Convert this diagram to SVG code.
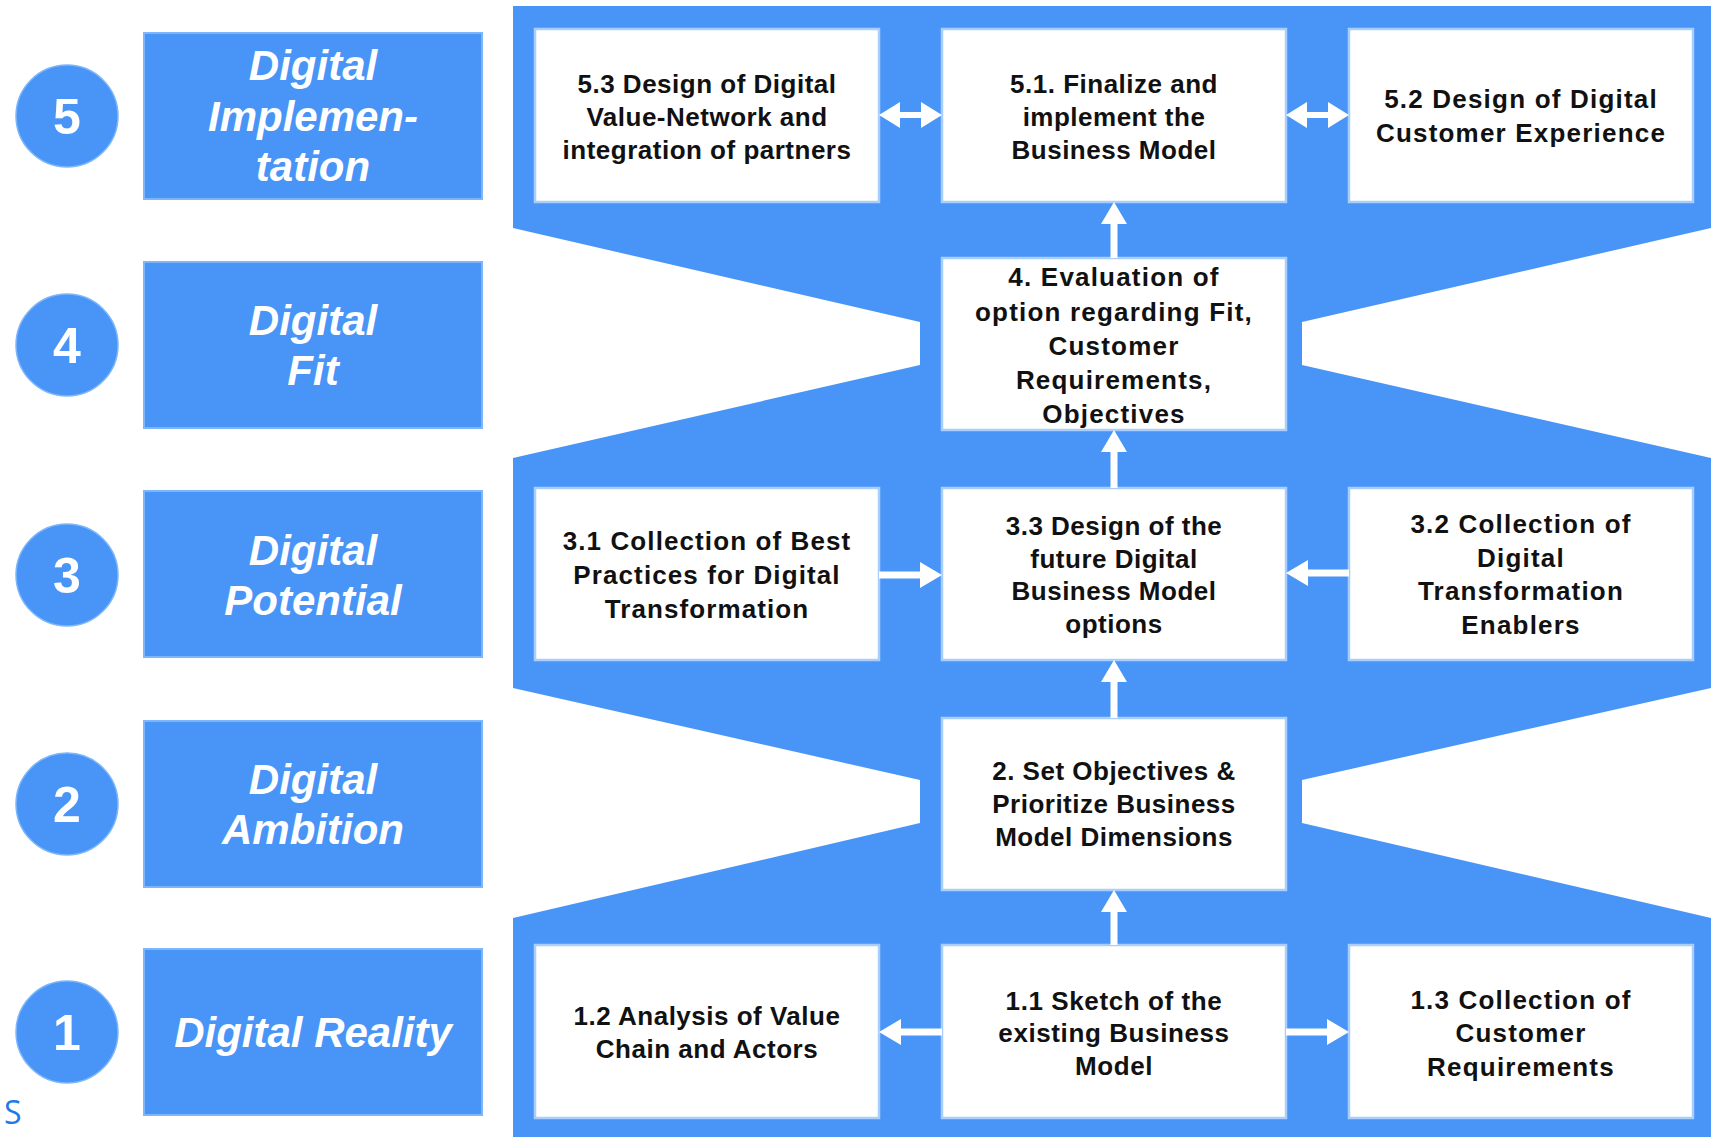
<svg xmlns="http://www.w3.org/2000/svg" width="1711" height="1137" viewBox="0 0 1711 1137">
<style>
.lbl{fill:#4895f7;stroke:#7db6fa;stroke-width:2}
.num{fill:#4895f7;stroke:#7db6fa;stroke-width:1.5}
.lt{font-family:"Liberation Sans",Arial,sans-serif;font-weight:bold;font-style:italic;font-size:42px;fill:#fff;text-anchor:middle}
.nt{font-family:"Liberation Sans",Arial,sans-serif;font-weight:bold;font-size:50px;fill:#fff;text-anchor:middle}
.box{fill:#fff;stroke:#a9cefb;stroke-width:2.5}
.bt{font-family:"Liberation Sans",Arial,sans-serif;font-weight:bold;font-size:26px;fill:#111;text-anchor:middle}
.arr{fill:#fff}
</style>
<rect width="1711" height="1137" fill="#fff"/>
<polygon id="band" fill="#4895f7" points="513,6 1711,6 1711,228 1302,322 1302,365 1711,458 1711,688 1302,780 1302,823 1711,918 1711,1137 513,1137 513,918 920,823 920,780 513,688 513,458 920,365 920,322 513,228"/>

<g id="stage5"><circle class="num" cx="67" cy="116" r="51"/><text class="nt" x="67" y="134">5</text><rect class="lbl" x="144" y="33" width="338" height="166"/><text class="lt" x="313" y="80">Digital</text><text class="lt" x="313" y="131">Implemen-</text><text class="lt" x="313" y="181">tation</text></g>
<g id="stage4"><circle class="num" cx="67" cy="345" r="51"/><text class="nt" x="67" y="363">4</text><rect class="lbl" x="144" y="262" width="338" height="166"/><text class="lt" x="313" y="335">Digital</text><text class="lt" x="313" y="385">Fit</text></g>
<g id="stage3"><circle class="num" cx="67" cy="575" r="51"/><text class="nt" x="67" y="593">3</text><rect class="lbl" x="144" y="491" width="338" height="166"/><text class="lt" x="313" y="565">Digital</text><text class="lt" x="313" y="615">Potential</text></g>
<g id="stage2"><circle class="num" cx="67" cy="804" r="51"/><text class="nt" x="67" y="822">2</text><rect class="lbl" x="144" y="721" width="338" height="166"/><text class="lt" x="313" y="794">Digital</text><text class="lt" x="313" y="844">Ambition</text></g>
<g id="stage1"><circle class="num" cx="67" cy="1032" r="51"/><text class="nt" x="67" y="1050">1</text><rect class="lbl" x="144" y="949" width="338" height="166"/><text class="lt" x="313" y="1047">Digital Reality</text></g>

<g id="n53"><rect class="box" x="535" y="29" width="344" height="173"/><g class="bt" letter-spacing="0.5"><text x="707" y="93">5.3 Design of Digital</text><text x="707" y="126">Value-Network and</text><text x="707" y="159">integration of partners</text></g></g>
<g id="n51"><rect class="box" x="942" y="29" width="344" height="173"/><g class="bt" letter-spacing="0.5"><text x="1114" y="93">5.1. Finalize and</text><text x="1114" y="126">implement the</text><text x="1114" y="159">Business Model</text></g></g>
<g id="n52"><rect class="box" x="1349" y="29" width="344" height="173"/><g class="bt" letter-spacing="1.2"><text x="1521" y="108">5.2 Design of Digital</text><text x="1521" y="142">Customer Experience</text></g></g>
<g id="n4"><rect class="box" x="942" y="258" width="344" height="172"/><g class="bt" letter-spacing="1.2"><text x="1114" y="286">4. Evaluation of</text><text x="1114" y="321">option regarding Fit,</text><text x="1114" y="355">Customer</text><text x="1114" y="389">Requirements,</text><text x="1114" y="423">Objectives</text></g></g>
<g id="n31"><rect class="box" x="535" y="488" width="344" height="172"/><g class="bt" letter-spacing="1.1"><text x="707" y="550">3.1 Collection of Best</text><text x="707" y="584">Practices for Digital</text><text x="707" y="618">Transformation</text></g></g>
<g id="n33"><rect class="box" x="942" y="488" width="344" height="172"/><g class="bt" letter-spacing="0.5"><text x="1114" y="535">3.3 Design of the</text><text x="1114" y="568">future Digital</text><text x="1114" y="600">Business Model</text><text x="1114" y="633">options</text></g></g>
<g id="n32"><rect class="box" x="1349" y="488" width="344" height="172"/><g class="bt" letter-spacing="1.2"><text x="1521" y="533">3.2 Collection of</text><text x="1521" y="567">Digital</text><text x="1521" y="600">Transformation</text><text x="1521" y="634">Enablers</text></g></g>
<g id="n2"><rect class="box" x="942" y="718" width="344" height="172"/><g class="bt" letter-spacing="0.5"><text x="1114" y="780">2. Set Objectives &amp;</text><text x="1114" y="813">Prioritize Business</text><text x="1114" y="846">Model Dimensions</text></g></g>
<g id="n12"><rect class="box" x="535" y="945" width="344" height="173"/><g class="bt" letter-spacing="0.5"><text x="707" y="1025">1.2 Analysis of Value</text><text x="707" y="1058">Chain and Actors</text></g></g>
<g id="n11"><rect class="box" x="942" y="945" width="344" height="173"/><g class="bt" letter-spacing="0.6"><text x="1114" y="1010">1.1 Sketch of the</text><text x="1114" y="1042">existing Business</text><text x="1114" y="1075">Model</text></g></g>
<g id="n13"><rect class="box" x="1349" y="945" width="344" height="173"/><g class="bt" letter-spacing="1.2"><text x="1521" y="1009">1.3 Collection of</text><text x="1521" y="1042">Customer</text><text x="1521" y="1076">Requirements</text></g></g>

<g id="connectors" class="arr">
<polygon points="879,115 900,102 900,112 921,112 921,102 942,115 921,128 921,118 900,118 900,128"/>
<polygon points="1286,115 1307,102 1307,112 1328,112 1328,102 1349,115 1328,128 1328,118 1307,118 1307,128"/>
<polygon points="1114,202 1127,224 1117.5,224 1117.5,258 1110.5,258 1110.5,224 1101,224"/>
<polygon points="1114,430 1127,452 1117.5,452 1117.5,488 1110.5,488 1110.5,452 1101,452"/>
<polygon points="1114,660 1127,682 1117.5,682 1117.5,718 1110.5,718 1110.5,682 1101,682"/>
<polygon points="1114,890 1127,912 1117.5,912 1117.5,945 1110.5,945 1110.5,912 1101,912"/>
<polygon points="942,575 920,562 920,571.5 879,571.5 879,578.5 920,578.5 920,588"/>
<polygon points="1286,573 1308,560 1308,569.5 1349,569.5 1349,576.5 1308,576.5 1308,586"/>
<polygon points="879,1032 901,1019 901,1028.5 942,1028.5 942,1035.5 901,1035.5 901,1045"/>
<polygon points="1349,1032 1327,1019 1327,1028.5 1286,1028.5 1286,1035.5 1327,1035.5 1327,1045"/>
</g>
<text x="4" y="1124" font-family="'Open Sans',sans-serif" font-size="32" fill="#1f7ae8">S</text>
</svg>
